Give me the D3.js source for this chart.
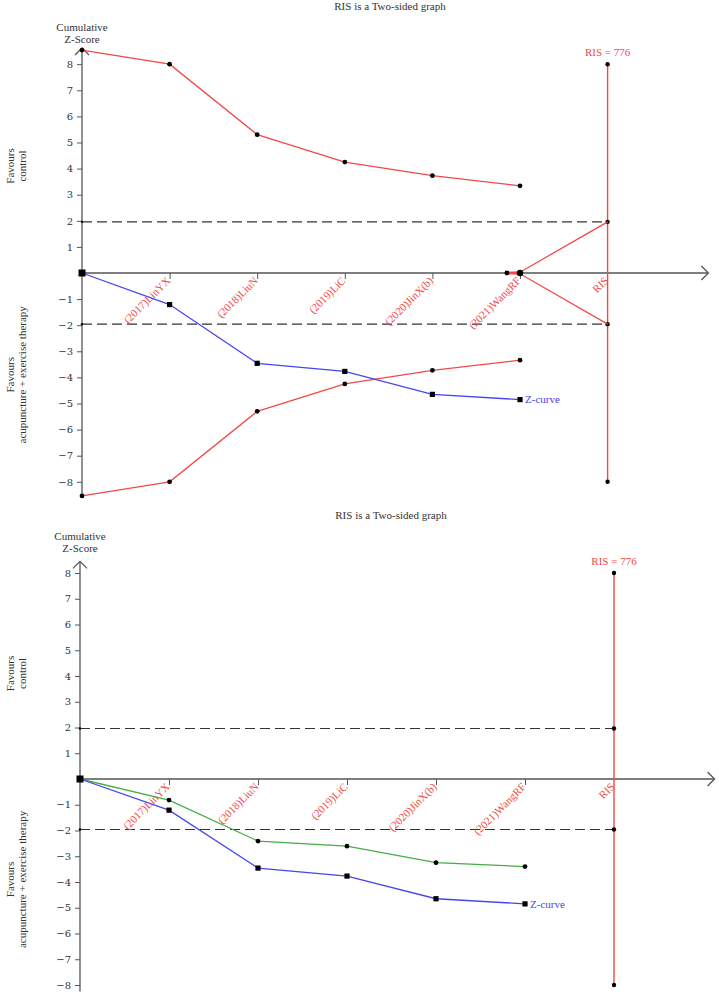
<!DOCTYPE html>
<html>
<head>
<meta charset="utf-8">
<script src="https://cdn.jsdelivr.net/npm/d3@7"></script>
<style>
  body { margin: 0; background: #fff; }
  svg { font-family: "Liberation Serif", "Times New Roman", serif; }
</style>
</head>
<body>
<svg id="chart" width="719" height="992"></svg>
<script>
// study labels along the information axis
var studies = ['(2017)LinYX', '(2018)LiuN', '(2019)LiC', '(2020)JinX(b)', '(2021)WangRF'];
var studyPos = [0, 1, 2, 3, 4, 5];
var risPos = 6;
var risValue = 776;
var yTicks = [-8, -7, -6, -5, -4, -3, -2, -1, 1, 2, 3, 4, 5, 6, 7, 8];

// O'Brien-Fleming style monitoring boundaries (top graph)
var upperBound = [8.54, 8.0, 5.30, 4.25, 3.73, 3.34];
var lowerBound = [-8.54, -8.0, -5.30, -4.25, -3.73, -3.34];

// futility wedge (top graph)
var futPos = [4.85, 5, 6];
var futUpper = [0, 0.03, 1.96];
var futLower = [0, -0.03, -1.96];

// cumulative Z-curves
var zCurve = [0, -1.21, -3.46, -3.77, -4.65, -4.85];
var zCurve2 = [0, -0.82, -2.41, -2.61, -3.25, -3.40];

var red = '#f24848', blue = '#4646f0', green = '#46ad46', axisCol = '#555';

var svg = d3.select('#chart');

function drawPanel(p) {
	var x = d3.scaleLinear().domain([0, 1]).range([p.x0, p.x0 + p.step]);
	var y = d3.scaleLinear().domain([0, 1]).range([p.y0, p.y0 - p.unit]);
	var g = svg.append('g');

	g.append('text')
		.attr('x', p.titleX).attr('y', p.titleY)
		.attr('text-anchor', 'middle')
		.style('font-size', '11px').style('fill', '#333')
		.text('RIS is a Two-sided graph');

	// dashed conventional boundaries
	[1.96, -1.96].forEach(function (v) {
		g.append('line')
			.attr('x1', x(0)).attr('x2', x(risPos))
			.attr('y1', y(v)).attr('y2', y(v))
			.attr('stroke', '#333').attr('stroke-width', 1.1)
			.attr('stroke-dasharray', '10,5');
	});

	// y axis
	var yAxis = g.append('g').attr('transform', `translate(${x(0)},0)`)
		.call(d3.axisLeft(y).tickValues(yTicks).tickSize(5).tickPadding(4).tickFormat(d3.format('d')));
	yAxis.select('.domain').remove();
	yAxis.selectAll('line').attr('stroke', axisCol);
	yAxis.selectAll('text').style('fill', '#333')
		.style('font-family', '"DejaVu Serif", serif').style('font-size', '10px');

	g.append('line')
		.attr('x1', x(0)).attr('x2', x(0))
		.attr('y1', y(p.yBottom)).attr('y2', y(p.yTop))
		.attr('stroke', axisCol).attr('stroke-width', 1.3);
	g.append('path')
		.attr('d', `M${x(0) - 7},${y(p.yTop) + 7}L${x(0)},${y(p.yTop)}L${x(0) + 7},${y(p.yTop) + 7}`)
		.attr('fill', 'none').attr('stroke', axisCol).attr('stroke-width', 1.3);

	// x axis
	var xAxis = g.append('g').attr('transform', `translate(0,${y(0)})`)
		.call(d3.axisBottom(x).tickValues([1, 2, 3, 4, 5]).tickSize(6).tickFormat(''));
	xAxis.select('.domain').remove();
	xAxis.selectAll('line').attr('stroke', axisCol);

	g.append('line')
		.attr('x1', x(0)).attr('x2', x(p.xEnd))
		.attr('y1', y(0)).attr('y2', y(0))
		.attr('stroke', axisCol).attr('stroke-width', 1.3);
	g.append('path')
		.attr('d', `M${x(p.xEnd) - 7},${y(0) - 7}L${x(p.xEnd)},${y(0)}L${x(p.xEnd) - 7},${y(0) + 7}`)
		.attr('fill', 'none').attr('stroke', axisCol).attr('stroke-width', 1.3);

	var labels = studies.concat(['RIS']);
	g.selectAll('text.xlab').data(labels).enter().append('text')
		.attr('class', 'xlab')
		.attr('transform', (d, i) => `translate(${x(i + 1) - 4},${y(0) + 3}) rotate(-45)`)
		.attr('text-anchor', 'end')
		.attr('dy', '0.7em')
		.style('font-size', '11px').style('fill', red)
		.text(d => d);

	// axis titles
	g.append('text').attr('x', x(0)).attr('y', p.y0 - p.unit * 8 - 33)
		.attr('text-anchor', 'middle').style('font-size', '11px').style('fill', '#333').text('Cumulative');
	g.append('text').attr('x', x(0)).attr('y', p.y0 - p.unit * 8 - 21)
		.attr('text-anchor', 'middle').style('font-size', '11px').style('fill', '#333').text('Z-Score');

	var fav1 = g.append('text').attr('transform', `translate(14,${y(4.1)}) rotate(-90)`)
		.attr('text-anchor', 'middle').style('font-size', '11px').style('fill', '#333');
	fav1.append('tspan').attr('x', 0).attr('dy', 0).text('Favours');
	fav1.append('tspan').attr('x', 0).attr('dy', 12).text('control');

	var fav2 = g.append('text').attr('transform', `translate(14,${y(-3.9)}) rotate(-90)`)
		.attr('text-anchor', 'middle').style('font-size', '11px').style('fill', '#333');
	fav2.append('tspan').attr('x', 0).attr('dy', 0).text('Favours');
	fav2.append('tspan').attr('x', 0).attr('dy', 12).text('acupuncture + exercise therapy');

	var line = d3.line().x(d => x(d[0])).y(d => y(d[1]));

	// RIS vertical line
	g.append('line')
		.attr('x1', x(risPos)).attr('x2', x(risPos))
		.attr('y1', y(8)).attr('y2', y(-8))
		.attr('stroke', red).attr('stroke-width', 1.4);
	g.append('text').attr('x', x(risPos)).attr('y', y(8) - 8)
		.attr('text-anchor', 'middle').style('font-size', '11px').style('fill', red)
		.text('RIS = ' + risValue);
	g.selectAll('circle.ris').data([8, 1.96, -1.96, -8]).enter().append('circle')
		.attr('cx', x(risPos)).attr('cy', d => y(d)).attr('r', 2.2).attr('fill', '#000');
	g.selectAll('circle.d2').data([1.96, -1.96]).enter().append('circle')
		.attr('cx', x(0)).attr('cy', d => y(d)).attr('r', 1.2).attr('fill', '#000');

	if (p.boundaries) {
		[upperBound, lowerBound].forEach(function (b) {
			var pts = studyPos.map((s, i) => [s, b[i]]);
			g.append('path').attr('d', line(pts)).attr('fill', 'none')
				.attr('stroke', red).attr('stroke-width', 1.3);
			g.selectAll(null).data(pts).enter().append('circle')
				.attr('cx', d => x(d[0])).attr('cy', d => y(d[1])).attr('r', 2.4).attr('fill', '#000');
		});
		[futUpper, futLower].forEach(function (b) {
			var pts = futPos.map((s, i) => [s, b[i]]);
			g.append('path').attr('d', line(pts)).attr('fill', 'none')
				.attr('stroke', red).attr('stroke-width', 1.3);
		});
		g.append('line').attr('x1', x(futPos[0])).attr('x2', x(futPos[1]))
			.attr('y1', y(0)).attr('y2', y(0)).attr('stroke', red).attr('stroke-width', 3);
		g.append('circle').attr('cx', x(futPos[0])).attr('cy', y(0)).attr('r', 2.4).attr('fill', '#000');
		g.append('circle').attr('cx', x(futPos[1])).attr('cy', y(0)).attr('r', 3.2).attr('fill', '#000');
	}

	if (p.green) {
		var gpts = studyPos.map((s, i) => [s, zCurve2[i]]);
		g.append('path').attr('d', line(gpts)).attr('fill', 'none')
			.attr('stroke', green).attr('stroke-width', 1.3);
		g.selectAll(null).data(gpts.slice(1)).enter().append('circle')
			.attr('cx', d => x(d[0])).attr('cy', d => y(d[1])).attr('r', 2.4).attr('fill', '#000');
	}

	var zpts = studyPos.map((s, i) => [s, zCurve[i]]);
	g.append('path').attr('d', line(zpts)).attr('fill', 'none')
		.attr('stroke', blue).attr('stroke-width', 1.3);
	g.selectAll(null).data(zpts).enter().append('rect')
		.attr('x', (d, i) => x(d[0]) - (i ? 2.6 : 3.5)).attr('y', (d, i) => y(d[1]) - (i ? 2.6 : 3.5))
		.attr('width', (d, i) => i ? 5.2 : 7).attr('height', (d, i) => i ? 5.2 : 7).attr('fill', '#000');
	var last = zpts[zpts.length - 1];
	g.append('text').attr('x', x(last[0]) + 5).attr('y', y(last[1]))
		.attr('dy', '0.35em').style('font-size', '11px').style('fill', blue).text('Z-curve');
}

drawPanel({ x0: 82, step: 87.6, y0: 273, unit: 26.1, yTop: 8.62, yBottom: -8.62, xEnd: 7.15,
	titleX: 390, titleY: 10, boundaries: true, green: false });
drawPanel({ x0: 80, step: 89, y0: 779, unit: 25.75, yTop: 8.45, yBottom: -8.25, xEnd: 7.13,
	titleX: 391, titleY: 519, boundaries: false, green: true });
</script>
</body>
</html>
